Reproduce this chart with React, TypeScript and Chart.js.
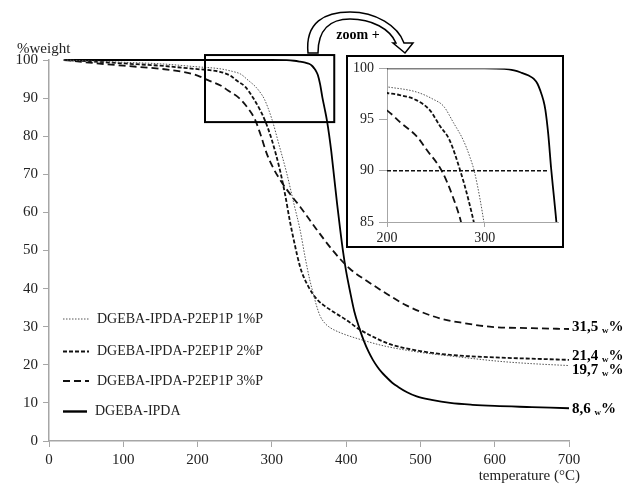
import React, { useEffect, useRef } from 'react';
import { Chart, registerables } from 'chart.js';
Chart.register(...registerables);

// ---------- DATA ----------
const seriesNames = ['DGEBA-IPDA-P2EP1P 1%P', 'DGEBA-IPDA-P2EP1P 2%P', 'DGEBA-IPDA-P2EP1P 3%P', 'DGEBA-IPDA'];
const endLabels = ['19,7', '21,4', '31,5', '8,6'];

const tempsP1 = [20, 60, 100, 150, 200, 230, 247, 258, 268, 278, 285, 290, 300, 310, 320, 330, 338, 345, 351, 356, 360, 365, 371, 378, 390, 405, 420, 450, 495, 550, 607, 650, 700];
const weightP1 = [100, 99.7, 99.4, 99.0, 98.2, 97.7, 97.0, 96.3, 94.7, 93.0, 91.3, 89.7, 84.5, 77.5, 70.3, 62, 55.4, 48, 42.3, 38.5, 35.6, 32.8, 31.0, 29.8, 28.6, 27.5, 26.6, 25.0, 23.4, 22.1, 20.9, 20.3, 19.8];

const tempsP2 = [20, 60, 100, 150, 200, 213, 230, 244, 254, 264, 275, 283, 291, 300, 311, 318, 324, 330, 338, 343, 349, 355, 362, 370, 382, 400, 418, 440, 459, 500, 540, 607, 650, 700];
const weightP2 = [100, 99.6, 99.1, 98.5, 97.6, 97.4, 96.9, 95.9, 94.4, 93.0, 90.0, 87.3, 84.0, 79.0, 71.0, 64.5, 58.0, 52.3, 45.7, 43.0, 40.6, 38.6, 36.9, 35.6, 34.0, 31.8, 29.3, 27.0, 25.4, 23.6, 22.6, 21.9, 21.6, 21.3];

const tempsP3 = [20, 60, 100, 150, 180, 200, 214, 231, 241, 256, 268, 277, 285, 293, 302, 311, 325, 338, 360, 382, 405, 428, 455, 481, 526, 560, 593, 650, 700];
const weightP3 = [100, 99.2, 98.5, 97.7, 96.9, 95.9, 94.7, 93.3, 92.0, 90.0, 87.3, 84.5, 80.3, 75.5, 71.6, 68.6, 64.7, 61.5, 55.6, 50.0, 45.2, 42.0, 38.6, 35.6, 32.2, 30.9, 30.0, 29.6, 29.4];

const tempsRef = [20, 300, 320, 330, 337, 345, 350, 354, 357, 360, 362, 365, 368, 371, 374, 377, 380, 384, 388, 392, 396, 400, 405, 411, 418, 424, 430, 436, 442, 448, 455, 462, 470, 482, 495, 515, 540, 570, 600, 650, 700];
const weightRef = [100, 100, 99.95, 99.8, 99.6, 99.3, 99.0, 98.5, 97.8, 96.9, 96.0, 93.6, 90.2, 87.3, 84.3, 80.5, 76.0, 69.0, 62.0, 55.5, 49.5, 44.5, 39.5, 34.0, 29.5, 26.2, 23.5, 21.3, 19.5, 18.0, 16.6, 15.3, 14.2, 12.8, 11.7, 10.8, 10.0, 9.5, 9.2, 8.9, 8.6];

const zoomBoxTemps = [210, 384];
const zoomBoxWeights = [83.7, 101.3];
const thresholdWeight = 90;
const thresholdTemps = [200, 365];

// ---------- STYLES ----------
const FONT = "'Liberation Serif', 'Times New Roman', serif";
const AXIS = '#a6a6a6';
const TEXT = '#222';
const lineStyles = [
  { dash: [1.5, 1.5], width: 1, color: '#555' },
  { dash: [4, 2], width: 1.8, color: '#111' },
  { dash: [7, 4], width: 1.8, color: '#111' },
  { dash: [], width: 1.8, color: '#000' },
];

const zip = (t: number[], w: number[]) => t.map((x, i) => ({ x, y: w[i] }));
const allSeries = [zip(tempsP1, weightP1), zip(tempsP2, weightP2), zip(tempsP3, weightP3), zip(tempsRef, weightRef)];

const makeDatasets = (clip: any) =>
  allSeries.map((d, i) => ({
    label: seriesNames[i],
    data: d,
    borderColor: lineStyles[i].color,
    borderWidth: lineStyles[i].width,
    borderDash: lineStyles[i].dash,
    pointRadius: 0,
    cubicInterpolationMode: 'monotone' as const,
    fill: false,
    clip,
  }));

function drawSubLabel(ctx: CanvasRenderingContext2D, x: number, y: number, num: string) {
  ctx.save();
  ctx.fillStyle = '#000';
  ctx.textBaseline = 'middle';
  ctx.textAlign = 'left';
  ctx.font = `bold 15px ${FONT}`;
  const a = num + ' ';
  ctx.fillText(a, x, y);
  let cx = x + ctx.measureText(a).width;
  ctx.font = `bold 9px ${FONT}`;
  ctx.fillText('w', cx, y + 4);
  cx += ctx.measureText('w').width;
  ctx.font = `bold 15px ${FONT}`;
  ctx.fillText('%', cx, y);
  ctx.restore();
}

const mainDecor = {
  id: 'mainDecor',
  beforeDraw(chart: any) {
    const ctx = chart.ctx;
    ctx.save();
    ctx.fillStyle = '#fff';
    ctx.fillRect(0, 0, chart.width, chart.height);
    ctx.restore();
  },
  afterDraw(chart: any) {
    const ctx: CanvasRenderingContext2D = chart.ctx;
    const xs = chart.scales.x;
    const ys = chart.scales.y;
    ctx.save();
    // zoom rectangle
    const x0 = xs.getPixelForValue(zoomBoxTemps[0]);
    const x1 = xs.getPixelForValue(zoomBoxTemps[1]);
    const y0 = ys.getPixelForValue(zoomBoxWeights[1]);
    const y1 = ys.getPixelForValue(zoomBoxWeights[0]);
    ctx.strokeStyle = '#000';
    ctx.lineWidth = 2;
    ctx.setLineDash([]);
    ctx.strokeRect(x0, y0, x1 - x0, y1 - y0);

    // axis titles
    ctx.fillStyle = TEXT;
    ctx.font = `15px ${FONT}`;
    ctx.textBaseline = 'middle';
    ctx.textAlign = 'left';
    ctx.fillText('%weight', 17, 49);
    ctx.textAlign = 'right';
    ctx.fillText('temperature (°C)', 580, 476);

    // legend
    const rows = [319, 351.5, 381, 411.5];
    ctx.font = `14px ${FONT}`;
    ctx.textAlign = 'left';
    rows.forEach((ry, i) => {
      const st = lineStyles[i];
      ctx.beginPath();
      ctx.strokeStyle = st.color;
      ctx.lineWidth = i === 3 ? 2.4 : st.width;
      ctx.setLineDash(st.dash);
      ctx.moveTo(63, ry);
      ctx.lineTo(i === 3 ? 87 : 89, ry);
      ctx.stroke();
      ctx.setLineDash([]);
      ctx.fillStyle = TEXT;
      ctx.fillText(seriesNames[i], i === 3 ? 95 : 97, ry);
    });

    // end labels
    const labelYs = [370, 356, 326.7, 409];
    endLabels.forEach((l, i) => drawSubLabel(ctx, 572, labelYs[i], l));

    // curved arrow
    ctx.beginPath();
    ctx.moveTo(308, 53);
    ctx.bezierCurveTo(305, 22, 325, 12, 350, 12);
    ctx.bezierCurveTo(376, 12, 398, 26, 404, 43);
    ctx.lineTo(413, 43);
    ctx.lineTo(405, 53);
    ctx.lineTo(393, 43);
    ctx.lineTo(396, 43);
    ctx.bezierCurveTo(390, 29, 372, 19, 350, 19);
    ctx.bezierCurveTo(330, 19, 318, 30, 318, 53);
    ctx.closePath();
    ctx.fillStyle = '#fff';
    ctx.fill();
    ctx.strokeStyle = '#000';
    ctx.lineWidth = 1.5;
    ctx.stroke();

    ctx.fillStyle = '#000';
    ctx.font = `bold 14px ${FONT}`;
    ctx.textAlign = 'center';
    ctx.textBaseline = 'middle';
    ctx.fillText('zoom +', 358, 35);
    ctx.restore();
  },
};

const insetDecor = {
  id: 'insetDecor',
  beforeDraw(chart: any) {
    const ctx = chart.ctx;
    ctx.save();
    ctx.fillStyle = '#fff';
    ctx.fillRect(0, 0, chart.width, chart.height);
    ctx.restore();
  },
  afterDraw(chart: any) {
    const ctx = chart.ctx;
    ctx.save();
    ctx.strokeStyle = '#000';
    ctx.lineWidth = 2;
    ctx.strokeRect(1, 1, chart.width - 2, chart.height - 2);
    ctx.restore();
  },
};

export default function App() {
  const mainRef = useRef<HTMLCanvasElement>(null);
  const insetRef = useRef<HTMLCanvasElement>(null);

  useEffect(() => {
    const main = new Chart(mainRef.current!, {
      type: 'line',
      data: { datasets: makeDatasets(6) as any },
      options: {
        animation: false,
        responsive: false,
        layout: { padding: { left: 0, right: 55, top: 60, bottom: 0 } },
        plugins: { legend: { display: false }, tooltip: { enabled: false } },
        scales: {
          x: {
            type: 'linear',
            min: 0,
            max: 700,
            ticks: { stepSize: 100, color: TEXT, font: { family: FONT, size: 15 }, padding: 4 },
            grid: { drawOnChartArea: false, tickLength: 6, color: AXIS },
            border: { color: AXIS, width: 1.5 },
            afterFit: (s: any) => { s.height = 43; },
          },
          y: {
            type: 'linear',
            min: 0,
            max: 100,
            ticks: { stepSize: 10, color: TEXT, font: { family: FONT, size: 15 }, padding: 5 },
            grid: { drawOnChartArea: false, tickLength: 6, color: AXIS },
            border: { color: AXIS, width: 1.5 },
            afterFit: (s: any) => { s.width = 49; },
          },
        },
      },
      plugins: [mainDecor],
    });

    const insetSets: any[] = makeDatasets(undefined);
    insetSets.push({
      label: 'threshold',
      data: [
        { x: thresholdTemps[0], y: thresholdWeight },
        { x: thresholdTemps[1], y: thresholdWeight },
      ],
      borderColor: '#111',
      borderWidth: 1.5,
      borderDash: [4, 2],
      pointRadius: 0,
      fill: false,
    });

    const inset = new Chart(insetRef.current!, {
      type: 'line',
      data: { datasets: insetSets },
      options: {
        animation: false,
        responsive: false,
        layout: { padding: { left: 0, right: 6, top: 13, bottom: 0 } },
        plugins: { legend: { display: false }, tooltip: { enabled: false } },
        scales: {
          x: {
            type: 'linear',
            min: 200,
            max: 375,
            afterBuildTicks: (s: any) => { s.ticks = s.ticks.filter((t: any) => t.value % 100 === 0); },
            ticks: { stepSize: 100, color: TEXT, font: { family: FONT, size: 14 }, padding: 3 },
            grid: { drawOnChartArea: false, tickLength: 5, color: AXIS },
            border: { color: AXIS },
            afterFit: (s: any) => { s.height = 26; },
          },
          y: {
            type: 'linear',
            min: 85,
            max: 100,
            ticks: { stepSize: 5, color: TEXT, font: { family: FONT, size: 14 }, padding: 5 },
            grid: { drawOnChartArea: false, tickLength: 8, color: AXIS },
            border: { color: AXIS },
            afterFit: (s: any) => { s.width = 41; },
          },
        },
      },
      plugins: [insetDecor],
    });

    return () => {
      main.destroy();
      inset.destroy();
    };
  }, []);

  return (
    <div style={{ position: 'fixed', left: 0, top: 0, width: 624, height: 484, background: '#fff' }}>
      <canvas ref={mainRef} width={624} height={484} style={{ position: 'absolute', left: 0, top: 0, width: 624, height: 484 }} />
      <canvas ref={insetRef} width={218} height={193} style={{ position: 'absolute', left: 346, top: 55, width: 218, height: 193 }} />
    </div>
  );
}
